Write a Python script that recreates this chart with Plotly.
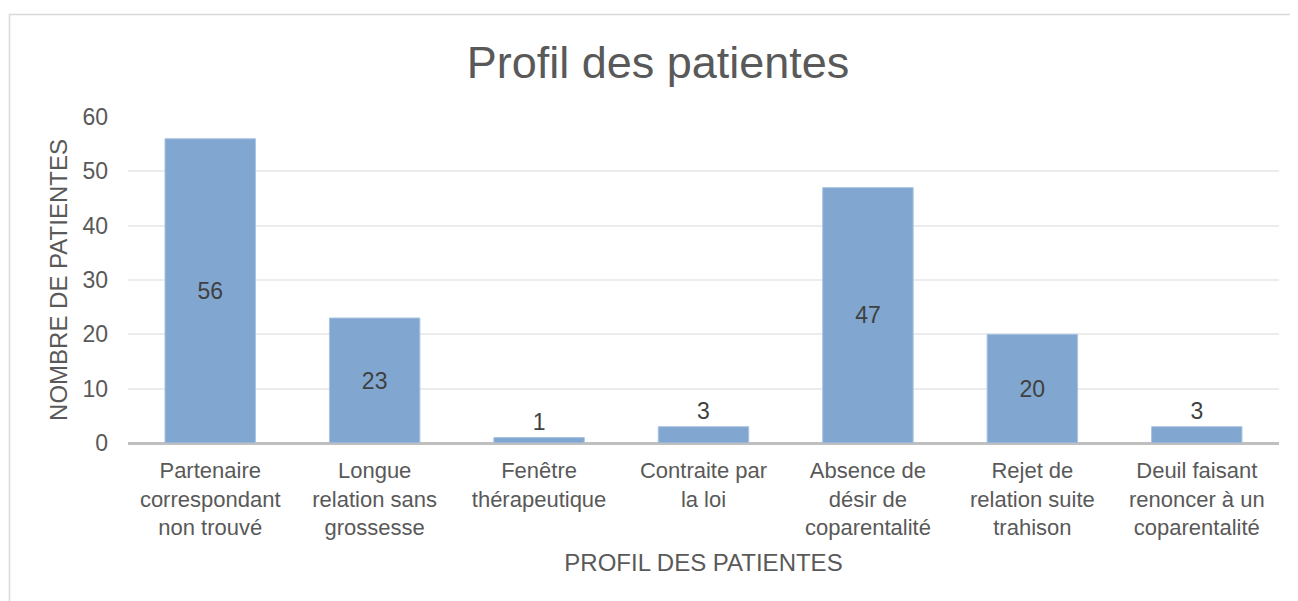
import plotly.graph_objects as go

categories = [
    "Partenaire<br>correspondant<br>non trouvé",
    "Longue<br>relation sans<br>grossesse",
    "Fenêtre<br>thérapeutique",
    "Contraite par<br>la loi",
    "Absence de<br>désir de<br>coparentalité",
    "Rejet de<br>relation suite<br>trahison",
    "Deuil faisant<br>renoncer à un<br>coparentalité",
]
values = [56, 23, 1, 3, 47, 20, 3]
label_positions = ["inside", "inside", "outside", "outside", "inside", "inside", "outside"]

OFF = 8  # page body margin
W, H = 1298 - OFF, 601 - OFF
L, T = 128 - OFF, 117 - OFF
R = W - (1279 - OFF)
B = H - (443 - OFF)
pw, ph = W - L - R, H - T - B

FONT = "Liberation Sans, Arial, sans-serif"

fig = go.Figure(
    go.Bar(
        x=categories,
        y=values,
        text=[str(v) for v in values],
        textposition=label_positions,
        insidetextanchor="middle",
        textfont=dict(size=23, color="#404040", family=FONT),
        marker=dict(color="#81a7d0", line=dict(color="#a8c3e2", width=1)),
        cliponaxis=False,
    )
)

fig.update_layout(
    width=W,
    height=H,
    margin=dict(l=L, r=R, t=T, b=B),
    paper_bgcolor="white",
    plot_bgcolor="white",
    bargap=0.45,
    font=dict(family=FONT, color="#595959", size=22),
    title=dict(
        text="Profil des patientes",
        x=(658 - OFF) / W,
        xanchor="center",
        y=1 - (62 - OFF) / H,
        yanchor="middle",
        yref="container",
        font=dict(size=45, color="#595959"),
    ),
    showlegend=False,
)

fig.update_xaxes(
    showgrid=False,
    showline=False,
    ticks="",
    ticklabelstandoff=12,
    tickfont=dict(size=22, color="#595959"),
    title=dict(text="PROFIL DES PATIENTES", font=dict(size=24, color="#595959"), standoff=14),
)
fig.update_yaxes(
    range=[0, 60],
    dtick=10,
    showgrid=True,
    gridcolor="#ececec",
    gridwidth=1.5,
    zeroline=True,
    zerolinecolor="#bfbfbf",
    zerolinewidth=2.5,
    showline=False,
    ticks="",
    ticklabelstandoff=19,
    tickfont=dict(size=23, color="#595959"),
    title=dict(text="NOMBRE DE PATIENTES", font=dict(size=24, color="#595959"), standoff=8),
)

# outer chart border
fig.add_shape(
    type="rect",
    xref="paper",
    yref="paper",
    x0=(9.5 - OFF - L) / pw,
    x1=(W + 20 - L) / pw,
    y0=-(H + 20 - (T + ph)) / ph,
    y1=(T + ph - (14.5 - OFF)) / ph,
    line=dict(color="#d9d9d9", width=1.5),
    fillcolor="rgba(0,0,0,0)",
    layer="below",
)

fig.write_html("out.html")
